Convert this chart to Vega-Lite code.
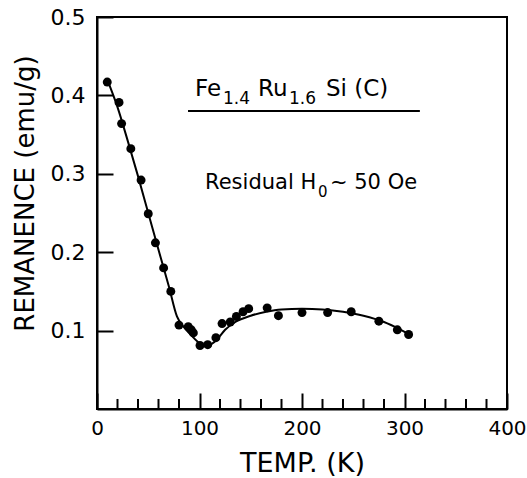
{
  "$schema": "https://vega.github.io/schema/vega-lite/v6.json",
  "autosize": "none",
  "width": 410,
  "height": 392,
  "padding": {"left": 97, "top": 17, "right": 20, "bottom": 69},
  "background": "white",
  "config": {
    "view": {"stroke": "black", "strokeWidth": 2},
    "font": "DejaVu Sans",
    "axis": {
      "domainColor": "black",
      "domainWidth": 2,
      "tickColor": "black",
      "tickWidth": 2,
      "labelColor": "black",
      "titleColor": "black",
      "labelFont": "DejaVu Sans",
      "titleFont": "DejaVu Sans",
      "titleFontWeight": "normal",
      "grid": false
    }
  },
  "datasets": {
    "points": [
      {"temp": 10, "rem": 0.417}, {"temp": 21.5, "rem": 0.391}, {"temp": 24, "rem": 0.364},
      {"temp": 33, "rem": 0.332}, {"temp": 43, "rem": 0.292}, {"temp": 50, "rem": 0.249},
      {"temp": 57, "rem": 0.212}, {"temp": 65, "rem": 0.18}, {"temp": 72, "rem": 0.15},
      {"temp": 80, "rem": 0.107}, {"temp": 89, "rem": 0.105}, {"temp": 92, "rem": 0.101},
      {"temp": 94, "rem": 0.097}, {"temp": 100.5, "rem": 0.081}, {"temp": 108, "rem": 0.082},
      {"temp": 116, "rem": 0.091}, {"temp": 122, "rem": 0.109}, {"temp": 130, "rem": 0.111},
      {"temp": 136, "rem": 0.118}, {"temp": 142.5, "rem": 0.124}, {"temp": 148, "rem": 0.128},
      {"temp": 166, "rem": 0.129}, {"temp": 177, "rem": 0.119}, {"temp": 200, "rem": 0.123},
      {"temp": 225, "rem": 0.123}, {"temp": 248, "rem": 0.124}, {"temp": 275, "rem": 0.112},
      {"temp": 293, "rem": 0.101}, {"temp": 304, "rem": 0.095}
    ],
    "curve": [
      {"temp": 10, "rem": 0.42}, {"temp": 20, "rem": 0.385}, {"temp": 30, "rem": 0.342},
      {"temp": 40, "rem": 0.297}, {"temp": 50, "rem": 0.25}, {"temp": 60, "rem": 0.203},
      {"temp": 70, "rem": 0.157}, {"temp": 78, "rem": 0.118}, {"temp": 85, "rem": 0.104},
      {"temp": 92, "rem": 0.094}, {"temp": 100, "rem": 0.084}, {"temp": 106, "rem": 0.081},
      {"temp": 112, "rem": 0.083}, {"temp": 118, "rem": 0.09}, {"temp": 125, "rem": 0.101},
      {"temp": 135, "rem": 0.111}, {"temp": 150, "rem": 0.119}, {"temp": 165, "rem": 0.124},
      {"temp": 180, "rem": 0.127}, {"temp": 200, "rem": 0.128}, {"temp": 220, "rem": 0.127},
      {"temp": 240, "rem": 0.124}, {"temp": 260, "rem": 0.119}, {"temp": 280, "rem": 0.111},
      {"temp": 295, "rem": 0.102}, {"temp": 305, "rem": 0.095}
    ],
    "minorTicks": [
      {"temp": 20}, {"temp": 40}, {"temp": 60}, {"temp": 80},
      {"temp": 120}, {"temp": 140}, {"temp": 160}, {"temp": 180},
      {"temp": 220}, {"temp": 240}, {"temp": 260}, {"temp": 280},
      {"temp": 320}, {"temp": 340}, {"temp": 360}, {"temp": 380}
    ],
    "mainText": [
      {"temp": 95.6, "rem": 0.399, "label": "Fe"},
      {"temp": 157.1, "rem": 0.399, "label": "Ru"},
      {"temp": 223.4, "rem": 0.399, "label": "Si (C)"}
    ],
    "subText": [
      {"temp": 122.9, "rem": 0.389, "label": "1.4"},
      {"temp": 187.3, "rem": 0.389, "label": "1.6"}
    ],
    "noteText": [
      {"temp": 105.4, "rem": 0.28, "label": "Residual H"},
      {"temp": 227.3, "rem": 0.28, "label": "~ 50 Oe"}
    ],
    "noteSub": [
      {"temp": 215.6, "rem": 0.271, "label": "0"}
    ],
    "underline": [
      {"x1": 88.8, "x2": 315, "y": 0.38}
    ]
  },
  "layer": [
    {
      "data": {"name": "curve"},
      "mark": {"type": "line", "color": "black", "strokeWidth": 2, "interpolate": "monotone"},
      "encoding": {
        "x": {
          "field": "temp", "type": "quantitative",
          "scale": {"domain": [0, 400], "nice": false},
          "axis": {
            "title": "TEMP. (K)",
            "titleFontSize": 27,
            "titlePadding": 12,
            "values": [0, 100, 200, 300, 400],
            "labelOverlap": false,
            "labelFontSize": 20,
            "labelPadding": 25,
            "tickSize": -16,
            "labelFlush": false
          }
        },
        "y": {
          "field": "rem", "type": "quantitative",
          "scale": {"domain": [0, 0.5], "nice": false},
          "axis": {
            "title": "REMANENCE (emu/g)",
            "titleFontSize": 26,
            "titleX": -64,
            "titleY": 176,
            "titleBaseline": "alphabetic",
            "values": [0.1, 0.2, 0.3, 0.4, 0.5],
            "format": ".1f",
            "labelOverlap": false,
            "labelFontSize": 22,
            "labelPadding": 28,
            "tickSize": -16,
            "labelFlush": false
          }
        }
      }
    },
    {
      "data": {"name": "minorTicks"},
      "mark": {"type": "rule", "color": "black", "strokeWidth": 2},
      "encoding": {
        "x": {"field": "temp", "type": "quantitative"},
        "y": {"datum": 0},
        "y2": {"datum": 0.0128}
      }
    },
    {
      "data": {"name": "points"},
      "mark": {"type": "circle", "color": "black", "opacity": 1, "size": 80},
      "encoding": {
        "x": {"field": "temp", "type": "quantitative"},
        "y": {"field": "rem", "type": "quantitative"}
      }
    },
    {
      "data": {"name": "underline"},
      "mark": {"type": "rule", "color": "black", "strokeWidth": 2},
      "encoding": {
        "x": {"field": "x1", "type": "quantitative"},
        "x2": {"field": "x2"},
        "y": {"field": "y", "type": "quantitative"}
      }
    },
    {
      "data": {"name": "mainText"},
      "mark": {"type": "text", "align": "left", "baseline": "alphabetic", "fontSize": 23, "color": "black", "font": "DejaVu Sans"},
      "encoding": {
        "x": {"field": "temp", "type": "quantitative"},
        "y": {"field": "rem", "type": "quantitative"},
        "text": {"field": "label"}
      }
    },
    {
      "data": {"name": "subText"},
      "mark": {"type": "text", "align": "left", "baseline": "alphabetic", "fontSize": 17, "color": "black", "font": "DejaVu Sans"},
      "encoding": {
        "x": {"field": "temp", "type": "quantitative"},
        "y": {"field": "rem", "type": "quantitative"},
        "text": {"field": "label"}
      }
    },
    {
      "data": {"name": "noteText"},
      "mark": {"type": "text", "align": "left", "baseline": "alphabetic", "fontSize": 21, "color": "black", "font": "DejaVu Sans"},
      "encoding": {
        "x": {"field": "temp", "type": "quantitative"},
        "y": {"field": "rem", "type": "quantitative"},
        "text": {"field": "label"}
      }
    },
    {
      "data": {"name": "noteSub"},
      "mark": {"type": "text", "align": "left", "baseline": "alphabetic", "fontSize": 15, "color": "black", "font": "DejaVu Sans"},
      "encoding": {
        "x": {"field": "temp", "type": "quantitative"},
        "y": {"field": "rem", "type": "quantitative"},
        "text": {"field": "label"}
      }
    }
  ]
}
